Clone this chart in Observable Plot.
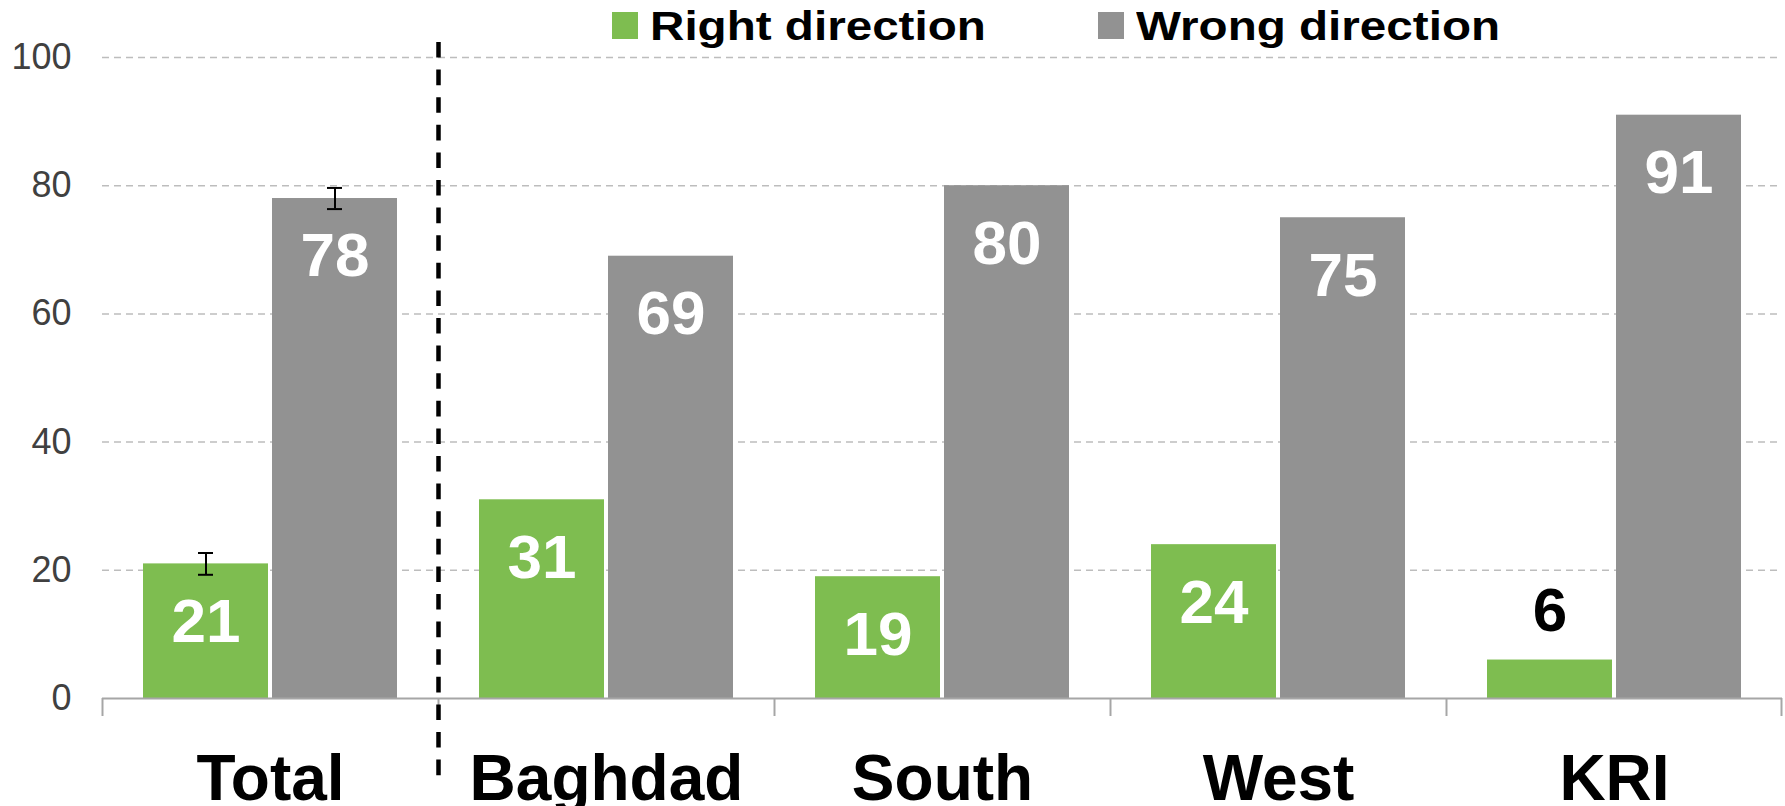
<!DOCTYPE html>
<html>
<head>
<meta charset="utf-8">
<script src="https://cdn.jsdelivr.net/npm/d3@7"></script>
<script src="https://cdn.jsdelivr.net/npm/@observablehq/plot@0.6"></script>
<style>
  html, body { margin: 0; padding: 0; background: #fff; }
  #wrap { position: relative; width: 1785px; height: 806px; overflow: hidden; font-family: "Liberation Sans", Arial, sans-serif; }
  #chart svg { display: block; }
  .lg-swatch { position: absolute; top: 12px; width: 26px; height: 27px; }
  .lg-text { position: absolute; top: 6px; font: bold 40px/1 "Liberation Sans", Arial, sans-serif; color: #000;
             transform: scaleX(1.19); transform-origin: 0 0; white-space: nowrap; }
</style>
</head>
<body>
<div id="wrap">
  <div id="chart"></div>
  <div id="legend"></div>
</div>
<script>
// ---- data ----
const categories = ["Total", "Baghdad", "South", "West", "KRI"];
const series = ["Right direction", "Wrong direction"];
const rightValues = [21, 31, 19, 24, 6];
const wrongValues = [78, 69, 80, 75, 91];
const errorCategories = ["Total"];
const rightErrors = [1.7];
const wrongErrors = [1.65];
const yTicks = [0, 20, 40, 60, 80, 100];
const dividerBefore = ["Baghdad"];
const seriesColors = ["#7ebd50", "#929292"];

// ---- layout ----
const W = 1785, H = 806;
const mL = 102, mR = 3, mT = 57, mB = 108;
const step = (W - mL - mR) / categories.length;
const font = "'Liberation Sans', Arial, sans-serif";

const rows = categories.flatMap((c, i) => [
  {category: c, series: series[0], value: rightValues[i]},
  {category: c, series: series[1], value: wrongValues[i]}
]);
const errRows = errorCategories.flatMap((c, i) => {
  const k = categories.indexOf(c);
  return [
    {category: c, series: series[0], value: rightValues[k], err: rightErrors[i]},
    {category: c, series: series[1], value: wrongValues[k], err: wrongErrors[i]}
  ];
});

const axisGray = "#a6a6a6";

const chart = Plot.plot({
  width: W, height: H,
  marginTop: mT, marginBottom: mB, marginLeft: mL, marginRight: mR,
  style: {fontFamily: font, background: "white", overflow: "visible"},
  fx: {domain: categories, padding: 0, axis: null},
  x: {domain: series, paddingInner: 0.031, paddingOuter: 0.308, axis: null},
  y: {domain: [0, 100], axis: null},
  color: {domain: series, range: seriesColors},
  marks: [
    Plot.gridY(yTicks.filter(t => t > 0), {stroke: "#bdbdbd", strokeOpacity: 1, strokeWidth: 1.5, strokeDasharray: "7,5"}),
    Plot.axisY(yTicks, {tickSize: 0, tickPadding: 31, fontSize: 36, color: "#404040", label: null}),
    Plot.barY(rows, {fx: "category", x: "series", y: "value", fill: "series"}),
    Plot.ruleY([0], {stroke: axisGray, strokeWidth: 2}),
    Plot.ruleX(categories, {fx: d => d, x: null, y1: 0, y2: 0, dx: -step / 2, insetBottom: -18, stroke: axisGray, strokeWidth: 2}),
    Plot.ruleX(categories.slice(-1), {fx: d => d, x: null, y1: 0, y2: 0, dx: step / 2 - 1, insetBottom: -18, stroke: axisGray, strokeWidth: 2}),
    Plot.ruleX(dividerBefore, {fx: d => d, x: null, dx: -step / 2, insetTop: -15, insetBottom: -79,
      stroke: "black", strokeWidth: 4.5, strokeDasharray: "15.6,12"}),
    Plot.ruleX(errRows, {fx: "category", x: "series", y1: d => d.value - d.err, y2: d => d.value + d.err, stroke: "black", strokeWidth: 2}),
    Plot.tickY(errRows, {fx: "category", x: "series", y: d => d.value - d.err, insetLeft: 55, insetRight: 55, stroke: "black", strokeWidth: 2}),
    Plot.tickY(errRows, {fx: "category", x: "series", y: d => d.value + d.err, insetLeft: 55, insetRight: 55, stroke: "black", strokeWidth: 2}),
    Plot.text(rows.filter(d => d.value >= 10), {fx: "category", x: "series", y: "value", text: d => String(d.value),
      dy: 58, fill: "white", fontSize: 62, fontWeight: "bold", lineAnchor: "middle"}),
    Plot.text(rows.filter(d => d.value < 10), {fx: "category", x: "series", y: "value", text: d => String(d.value),
      dy: -49, fill: "black", fontSize: 62, fontWeight: "bold", lineAnchor: "middle"}),
    Plot.text(categories, {fx: d => d, text: d => d, frameAnchor: "bottom", dy: 81.5, fontSize: 64, fontWeight: "bold", fill: "black", lineAnchor: "middle"})
  ]
});
document.getElementById("chart").appendChild(chart);

// ---- legend (HTML, above the plot) ----
const legendSwatchLeft = [612, 1098];
const legendTextLeft = [650, 1136];
const legend = document.getElementById("legend");
series.forEach((s, i) => {
  const sw = document.createElement("div");
  sw.className = "lg-swatch";
  sw.style.left = legendSwatchLeft[i] + "px";
  sw.style.background = seriesColors[i];
  legend.appendChild(sw);
  const tx = document.createElement("div");
  tx.className = "lg-text";
  tx.style.left = legendTextLeft[i] + "px";
  tx.textContent = s;
  legend.appendChild(tx);
});
</script>
</body>
</html>
